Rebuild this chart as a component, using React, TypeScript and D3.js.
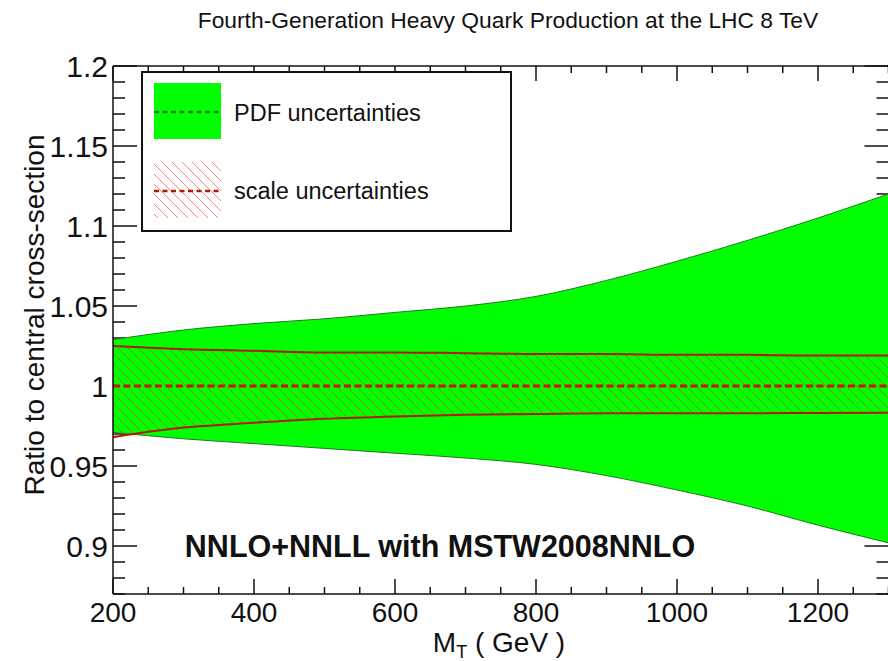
import React from "react";
import * as d3 from "d3";

const masses = [200, 300, 400, 500, 600, 700, 800, 900, 1000, 1100, 1200, 1300];
const pdfUp = [1.029, 1.035, 1.039, 1.042, 1.046, 1.05, 1.056, 1.066, 1.078, 1.091, 1.105, 1.12];
const pdfLo = [0.971, 0.967, 0.964, 0.961, 0.958, 0.955, 0.951, 0.944, 0.935, 0.925, 0.913, 0.902];
const scaleUp = [1.025, 1.023, 1.022, 1.021, 1.021, 1.0205, 1.02, 1.02, 1.0195, 1.0195, 1.019, 1.019];
const scaleLo = [0.968, 0.974, 0.977, 0.9795, 0.981, 0.982, 0.9825, 0.983, 0.983, 0.983, 0.9832, 0.9833];
const central = [1, 1, 1, 1, 1, 1, 1, 1, 1, 1, 1, 1];

const xMajor = [200, 400, 600, 800, 1000, 1200];
const xLabels = ["200", "400", "600", "800", "1000", "1200"];
const yMajor = [0.9, 0.95, 1.0, 1.05, 1.1, 1.15, 1.2];
const yLabels = ["0.9", "0.95", "1", "1.05", "1.1", "1.15", "1.2"];

const title = "Fourth-Generation Heavy Quark Production at the LHC 8 TeV";
const yTitle = "Ratio to central cross-section";
const annotation = "NNLO+NNLL with MSTW2008NNLO";
const legendItems = ["PDF uncertainties", "scale uncertainties"];

const W = 888, H = 661;
const L = 113, R = 888.5, T = 66, B = 594;

export default function App() {
  const x = d3.scaleLinear().domain([200, 1300]).range([L, R]);
  const y = d3.scaleLinear().domain([0.87, 1.2]).range([B, T]);
  const xMinor = d3.range(200, 1301, 50);
  const yMinor = d3.range(87, 121, 1).map((v) => v / 100);

  const pts = masses.map((m, i) => ({ m, pu: pdfUp[i], pl: pdfLo[i], su: scaleUp[i], sl: scaleLo[i], c: central[i] }));
  const curve = d3.curveMonotoneX;
  const pdfArea = d3.area<any>().x((d) => x(d.m)).y0((d) => y(d.pl)).y1((d) => y(d.pu)).curve(curve);
  const scaleArea = d3.area<any>().x((d) => x(d.m)).y0((d) => y(d.sl)).y1((d) => y(d.su)).curve(curve);
  const line = (k: string) => d3.line<any>().x((d) => x(d.m)).y((d) => y(d[k])).curve(curve)(pts) as string;

  const font = "'Liberation Sans', Arial, Helvetica, sans-serif";
  const isMajorX = (v: number) => xMajor.includes(v);
  const isMajorY = (v: number) => yMajor.some((m) => Math.abs(m - v) < 1e-6);

  return (
    <svg width={W} height={H} style={{ position: "absolute", left: 0, top: 0 }} fontFamily={font}>
      <defs>
        <clipPath id="plotclip">
          <rect x={L} y={T} width={R - L} height={B - T} />
        </clipPath>
        <pattern id="hatch" patternUnits="userSpaceOnUse" width="10" height="10">
          <path d="M-1,-1 L11,11 M-6,4 L4,14 M4,-6 L14,4" stroke="#e03010" strokeWidth="1" strokeOpacity="0.55" />
        </pattern>
        <pattern id="hatchLeg" patternUnits="userSpaceOnUse" width="10" height="10">
          <path d="M-1,-1 L11,11 M-6,4 L4,14 M4,-6 L14,4" stroke="#ff8080" strokeWidth="1" />
        </pattern>
      </defs>

      <rect x={0} y={0} width={W} height={H} fill="white" />

      {/* title */}
      <text x={508} y={28} textAnchor="middle" fontSize={22.8} fill="#111">{title}</text>

      {/* ticks (drawn under bands) */}
      <g stroke="#111" strokeWidth={1.5}>
        {xMinor.map((v) => {
          const len = isMajorX(v) ? 15 : 7;
          return (
            <g key={"xt" + v}>
              <line x1={x(v)} x2={x(v)} y1={B} y2={B - len} />
              <line x1={x(v)} x2={x(v)} y1={T} y2={T + len} />
            </g>
          );
        })}
        {yMinor.map((v) => {
          const len = isMajorY(v) ? 24 : 12;
          return (
            <g key={"yt" + v}>
              <line x1={L} x2={L + len} y1={y(v)} y2={y(v)} />
              <line x1={R} x2={R - len} y1={y(v)} y2={y(v)} />
            </g>
          );
        })}
      </g>

      {/* bands */}
      <g clipPath="url(#plotclip)">
        <path d={pdfArea(pts) as string} fill="#00ff00" stroke="#1f7a1f" strokeWidth={1} />
        <path d={scaleArea(pts) as string} fill="url(#hatch)" stroke="none" />
        <path d={line("su")} fill="none" stroke="#b01a00" strokeWidth={2} />
        <path d={line("sl")} fill="none" stroke="#b01a00" strokeWidth={2} />
        <path d={line("c")} fill="none" stroke="#cc1100" strokeWidth={3} strokeDasharray="7,3.5" />
      </g>

      {/* frame */}
      <g stroke="#111" strokeWidth={1.5} fill="none">
        <line x1={L} x2={L} y1={T} y2={B} />
        <line x1={L} x2={R} y1={B} y2={B} />
        <line x1={L} x2={R} y1={T} y2={T} />
      </g>

      {/* tick labels */}
      {xMajor.map((v, i) => (
        <text key={"xl" + v} x={x(v)} y={622} textAnchor="middle" fontSize={28} fill="#111">{xLabels[i]}</text>
      ))}
      {yMajor.map((v, i) => (
        <text key={"yl" + v} x={108} y={y(v) + 10.5} textAnchor="end" fontSize={30} fill="#111">{yLabels[i]}</text>
      ))}

      {/* axis titles */}
      <text x={499} y={652} textAnchor="middle" fontSize={28} fill="#111">
        M<tspan fontSize={18} dy={6}>T</tspan><tspan dy={-6}> ( GeV )</tspan>
      </text>
      <text transform={`translate(44,${315}) rotate(-90)`} textAnchor="middle" fontSize={28} fill="#111">{yTitle}</text>

      {/* annotation */}
      <text x={440} y={557} textAnchor="middle" fontSize={30.5} fontWeight="bold" fill="#111">{annotation}</text>

      {/* legend */}
      <rect x={142} y={72} width={369} height={159} fill="white" stroke="#111" strokeWidth={2} />
      <rect x={154} y={83} width={67} height={56} fill="#00ff00" />
      <line x1={154} x2={221} y1={112} y2={112} stroke="#1a7a1a" strokeWidth={2.5} strokeDasharray="5,3.5" />
      <rect x={154} y={162} width={67} height={56} fill="url(#hatchLeg)" />
      <line x1={154} x2={221} y1={191} y2={191} stroke="#b01a00" strokeWidth={2.5} strokeDasharray="5,3.5" />
      <text x={234} y={121} fontSize={23.5} fill="#111">{legendItems[0]}</text>
      <text x={234} y={199} fontSize={23.5} fill="#111">{legendItems[1]}</text>
    </svg>
  );
}
